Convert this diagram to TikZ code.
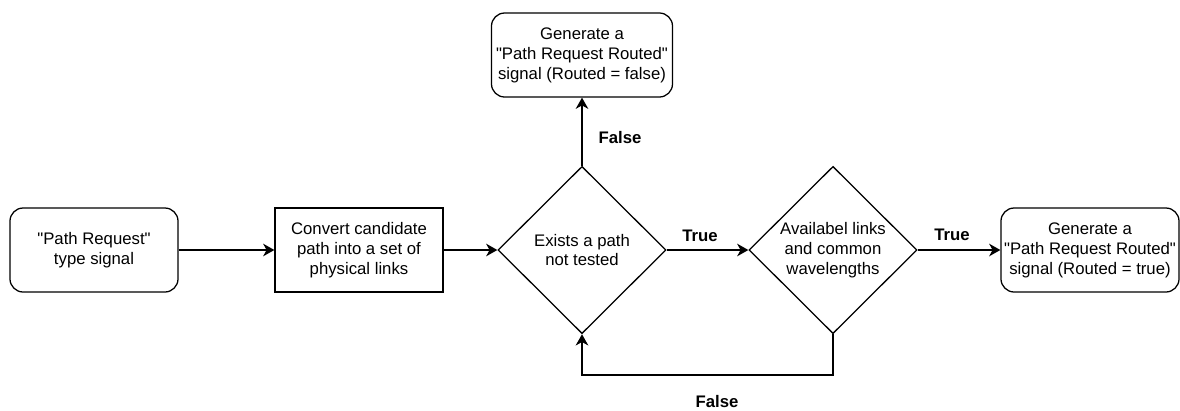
\documentclass[tikz,border=0pt]{standalone}
\usepackage{fontspec}
\setmainfont{Liberation Sans}
\usetikzlibrary{shapes,arrows,arrows.meta,positioning}

\tikzset{
  box/.style={draw, line width=0.9pt, minimum width=4.2cm, minimum height=2.1cm, align=center, inner sep=2pt},
  rbox/.style={box, rounded corners=0.33cm},
  cond/.style={draw, diamond, aspect=1, line width=0.9pt, minimum width=4.2cm, minimum height=4.18cm, align=center, inner sep=0pt},
  lbl/.style={font=\fontsize{11.9}{14.2}\selectfont\bfseries},
  link/.style={line width=0.9pt, -{Stealth[length=8pt,width=9pt,inset=2.5pt]}}
}

\begin{document}
\begin{tikzpicture}[x=0.025cm, y=-0.025cm, font=\fontsize{11.9}{14.2}\selectfont]

\useasboundingbox (0,0) rectangle (1180,410);

\node[rbox] (req) at (94,250) {\textquotedbl Path Request\textquotedbl\\type signal};
\node[box] (conv) at (359,250) {Convert candidate\\path into a set of\\physical links};
\node[cond] (exists) at (582,250) {Exists a path\\not tested};
\node[cond] (avail) at (833,250) {Availabel links\\and common\\wavelengths};
\node[rbox, minimum width=4.45cm] (routedT) at (1090,250) {Generate a\\\textquotedbl Path Request Routed\textquotedbl\\signal (Routed = true)};
\node[rbox, minimum width=4.525cm] (routedF) at (582,55) {Generate a\\\textquotedbl Path Request Routed\textquotedbl\\signal (Routed = false)};

\coordinate (loop) at (708,375);

\draw[link] (req) -- (conv);
\draw[link] (conv) -- (exists);
\draw[link] (exists) -- (avail);
\draw[link] (avail) -- (routedT);
\draw[link] (exists.north) -- (routedF.south);
\draw[link] (avail.south) |- (loop) -| (exists.south);

% labels
\node[lbl] (t1) at (700,236) {True};
\node[lbl] (t2) at (952,235) {True};
\node[lbl] (f1) at (620,138) {False};
\node[lbl] (f2) at (717,402) {False};

\end{tikzpicture}
\end{document}
